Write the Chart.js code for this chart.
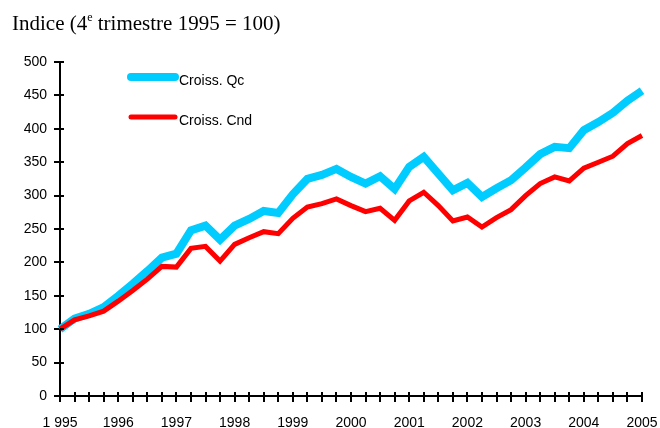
<!DOCTYPE html>
<html><head><meta charset="utf-8">
<script src="https://cdn.jsdelivr.net/npm/chart.js@4.4.0/dist/chart.umd.min.js"></script>
<style>html,body{margin:0;padding:0;background:#fff;}#wrap{position:relative;width:660px;height:428px;}</style>
</head><body><div id="wrap"><canvas id="c" width="660" height="428"></canvas></div>
<script>
// Quarters: index 0 = 4th quarter 1995 (= 100), index 40 = 4th quarter 2005
const quarters = [];
for (let y = 1995; y <= 2005; y++) { for (let q = 1; q <= 4; q++) { if (y === 1995 && q < 4) continue; quarters.push(y + 'T' + q); } }
quarters.length = 41;
const yearTickLabels = ['1 995','1996','1997','1998','1999','2000','2001','2002','2003','2004','2005'];
const croissQc = [100,116,123,133,150,168,187,207,213,248,255,234,255,265,277,274,302,325,331,340,328,318,329,310,343,358,333,308,319,298,311,323,342,362,373,371,398,410,424,442,457];
const croissCnd = [100,114,120,127,142,158,175,194,193,221,224,202,227,237,246,243,266,283,288,295,285,276,281,263,292,305,285,262,268,253,267,279,300,318,328,322,341,350,359,378,390];
const seriesNames = ['Croiss. Qc','Croiss. Cnd'];
const titleParts = ['Indice (4','e',' trimestre 1995 = 100)'];
const yTicks = [0,50,100,150,200,250,300,350,400,450,500];

const BLUE = '#00CCFF', RED = '#FF0000';

const decor = {
  id: 'decor',
  afterDraw(chart) {
    const ctx = chart.ctx, xs = chart.scales.x, ys = chart.scales.y;
    ctx.save();
    // inner halves of the tick marks (crossing the axes)
    ctx.strokeStyle = '#000'; ctx.lineWidth = 2;
    ctx.beginPath();
    for (const v of yTicks) { const py = Math.round(ys.getPixelForValue(v)); ctx.moveTo(xs.left, py); ctx.lineTo(xs.left + 4, py); }
    for (let i = 0; i < quarters.length; i++) { const px = Math.round(xs.getPixelForValue(i)); ctx.moveTo(px, ys.bottom); ctx.lineTo(px, ys.bottom - 4); }
    ctx.stroke();
    // title
    ctx.fillStyle = '#000'; ctx.textBaseline = 'alphabetic'; ctx.textAlign = 'left';
    ctx.font = '21px "Liberation Serif"';
    let x = 12; const by = 30;
    ctx.fillText(titleParts[0], x, by); x += ctx.measureText(titleParts[0]).width;
    ctx.font = '12px "Liberation Serif"';
    ctx.fillText(titleParts[1], x, by - 9); x += ctx.measureText(titleParts[1]).width;
    ctx.font = '21px "Liberation Serif"';
    ctx.fillText(titleParts[2], x, by);
    // legend
    const items = [[BLUE, 8, 77, 81], [RED, 5, 117, 121]];
    ctx.lineCap = 'round';
    items.forEach((it, k) => {
      ctx.strokeStyle = it[0]; ctx.lineWidth = it[1];
      ctx.beginPath(); ctx.moveTo(131, it[2]); ctx.lineTo(175, it[2]); ctx.stroke();
      ctx.fillStyle = '#000'; ctx.font = '14px "Liberation Sans"'; ctx.textBaseline = 'middle';
      ctx.fillText(seriesNames[k], 179, it[3]);
    });
    ctx.restore();
  }
};

new Chart(document.getElementById('c'), {
  type: 'line',
  data: {
    labels: quarters,
    datasets: [
      { label: seriesNames[0], data: croissQc, borderColor: BLUE, borderWidth: 8, pointRadius: 0, tension: 0, order: 2 },
      { label: seriesNames[1], data: croissCnd, borderColor: RED, borderWidth: 5, pointRadius: 0, tension: 0, order: 1 }
    ]
  },
  options: {
    responsive: false, animation: false, events: [],
    layout: { padding: { left: 0, right: 18, top: 62, bottom: 0 } },
    plugins: { legend: { display: false }, tooltip: { enabled: false }, title: { display: false } },
    scales: {
      x: {
        offset: false,
        afterFit(s) { s.height = 32; s.paddingLeft = 0; s.paddingRight = 0; },
        border: { display: true, color: '#000', width: 2 },
        grid: { display: true, drawOnChartArea: false, drawTicks: true, tickLength: 6, color: '#000', lineWidth: 2 },
        ticks: { autoSkip: false, maxRotation: 0, minRotation: 0, padding: 13, color: '#000', font: { family: 'Liberation Sans', size: 14 },
          callback: (v, i) => (i % 4 === 0 ? yearTickLabels[i / 4] : '') }
      },
      y: {
        min: 0, max: 500,
        afterFit(s) { s.width = 60; s.paddingTop = 0; s.paddingBottom = 0; },
        afterBuildTicks(s) { s.ticks = yTicks.map(v => ({ value: v })); },
        border: { display: true, color: '#000', width: 2 },
        grid: { display: true, drawOnChartArea: false, drawTicks: true, tickLength: 6, color: '#000', lineWidth: 2 },
        ticks: { padding: 7, color: '#000', font: { family: 'Liberation Sans', size: 14 } }
      }
    }
  },
  plugins: [decor]
});
</script></body></html>
